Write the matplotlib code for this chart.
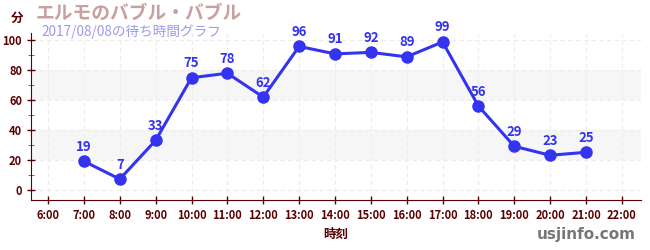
import matplotlib
matplotlib.use('Agg')
import matplotlib.pyplot as plt
from matplotlib.ticker import MultipleLocator

plt.rcParams['font.family'] = ['Noto Sans CJK JP', 'DejaVu Sans']

hours = [7, 8, 9, 10, 11, 12, 13, 14, 15, 16, 17, 18, 19, 20, 21]
waits = [19, 7, 33, 75, 78, 62, 96, 91, 92, 89, 99, 56, 29, 23, 25]
tick_hours = list(range(6, 23))
tick_labels = ['%d:00' % h for h in tick_hours]

title = 'エルモのバブル・バブル'
subtitle = '2017/08/08の待ち時間グラフ'

dark = '#5a0000'
blue = '#3333f0'

fig = plt.figure(figsize=(6.5, 2.5), dpi=100)
ax = fig.add_axes([0.048, 0.2, 0.938, 0.668])

ax.set_xlim(5.53, 22.53)
ax.set_ylim(-7, 105)

# alternating bands
for lo, hi in [(20, 40), (60, 80)]:
    ax.axhspan(lo, hi, color='#f6f6f6', zorder=0, lw=0)

ax.grid(True, color='#ececec', linestyle=(0, (4, 3)), linewidth=0.8, zorder=0)

ax.plot(hours, waits, color=blue, lw=2.2, marker='o', markersize=8, zorder=3)
for h, w in zip(hours, waits):
    ax.text(h, w + 5, str(w), ha='center', va='bottom', color=blue,
            fontsize=9.5, fontweight='bold')

ax.set_xticks(tick_hours)
ax.set_xticklabels(tick_labels)
ax.set_yticks([0, 20, 40, 60, 80, 100])
ax.yaxis.set_minor_locator(MultipleLocator(10))
ax.tick_params(axis='both', colors=dark, labelsize=8, direction='inout', length=6, width=1)
ax.tick_params(axis='y', which='minor', colors='#dd2222', direction='inout', length=4)
for lab in ax.get_xticklabels() + ax.get_yticklabels():
    lab.set_color(dark)
    lab.set_fontweight('bold')

for s in ['top', 'right']:
    ax.spines[s].set_visible(False)
ax.spines['left'].set_color(dark)
ax.spines['bottom'].set_color(dark)

ax.set_xlabel('時刻', color=dark, fontsize=9, fontweight='bold', labelpad=4)

fig.text(0.017, 0.925, '分', color=dark, fontsize=9, fontweight='bold', va='center')
fig.text(0.055, 0.945, title, color='#c9a0a0', fontsize=13.5, fontweight='bold', va='center')
fig.text(0.063, 0.875, subtitle, color='#9a9af0', fontsize=9.8, va='center')
fig.text(0.978, 0.062, 'usjinfo.com', color='#777777', fontsize=11, fontweight='bold',
         ha='right', va='center', family=['DejaVu Sans'])

fig.savefig('out.png', dpi=100)
